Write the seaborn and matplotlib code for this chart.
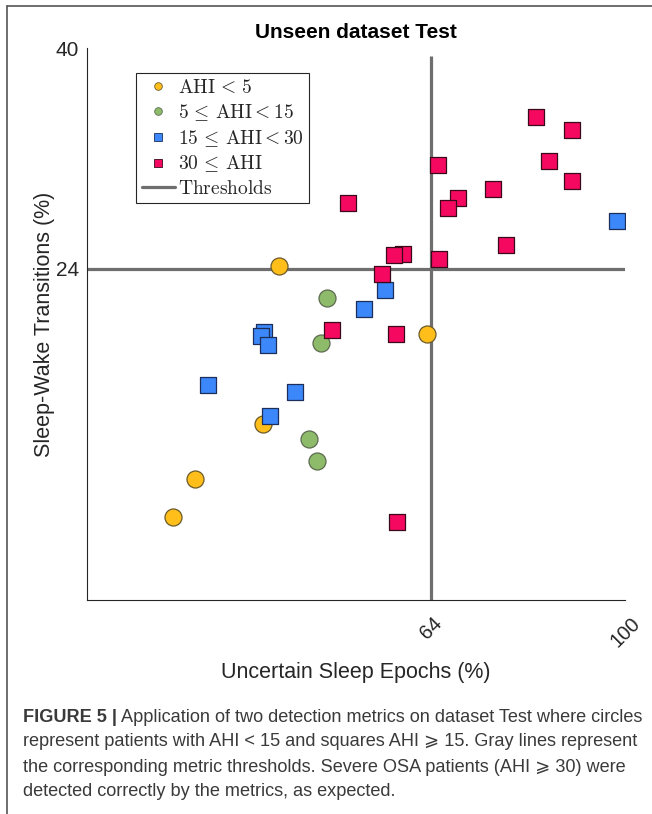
import matplotlib
matplotlib.use("Agg")
import matplotlib.pyplot as plt
from matplotlib.lines import Line2D
import seaborn as sns
import pandas as pd

# Uncertain sleep epochs (%) and sleep-wake transitions (%) per patient, by AHI group
ahi_lt5_x = [35.7, 32.7, 20.1, 16.0, 63.2]
ahi_lt5_y = [24.2, 12.75, 8.8, 6.0, 19.3]

ahi_5_15_x = [44.6, 43.5, 41.3, 42.8]
ahi_5_15_y = [21.9, 18.6, 11.7, 10.1]

ahi_15_30_x = [32.9, 32.3, 33.6, 22.5, 38.7, 34.0, 55.4, 51.5, 98.5]
ahi_15_30_y = [19.4, 19.1, 18.5, 15.6, 15.1, 13.3, 22.5, 21.1, 27.5]

ahi_ge30_x = [83.5, 90.1, 85.9, 90.1, 65.2, 75.5, 69.0, 67.1, 48.5, 77.9,
              58.7, 57.1, 65.4, 54.8, 57.4, 45.5, 57.6]
ahi_ge30_y = [35.0, 34.1, 31.8, 30.4, 31.5, 29.8, 29.1, 28.4, 28.8, 25.7,
              25.1, 25.0, 24.7, 23.6, 19.3, 19.6, 5.65]

# Metric thresholds
x_threshold = 64
y_threshold = 24

group_labels = [r"$\mathrm{AHI}\,<\,5$",
                r"$5\,\leq\,\mathrm{AHI}{<}15$",
                r"$15\,\leq\,\mathrm{AHI}{<}30$",
                r"$30\,\leq\,\mathrm{AHI}$"]
group_colors = ["#FFBE1A", "#8DBB6A", "#3C88FA", "#F5085F"]
group_edges = ["#6A5A2A", "#5C6B50", "#1B2F5A", "#3A0A1A"]
group_markers = ["o", "o", "s", "s"]
group_sizes = [150, 150, 135, 135]

sns.set_style("white")
plt.rcParams["font.family"] = ["Liberation Sans", "DejaVu Sans"]
plt.rcParams["mathtext.fontset"] = "cm"

fig = plt.figure(figsize=(6.52, 8.14), dpi=100)
ax = fig.add_axes([0.1334, 0.2629, 0.8252, 0.678])

ax.plot([x_threshold, x_threshold], [0, 39.4], color="#6E6E6E", lw=2.3, zorder=1,
        solid_capstyle="butt")
ax.plot([0, 100], [y_threshold, y_threshold], color="#6E6E6E", lw=2.3, zorder=1,
        solid_capstyle="butt")

groups = [(ahi_lt5_x, ahi_lt5_y), (ahi_5_15_x, ahi_5_15_y),
          (ahi_15_30_x, ahi_15_30_y), (ahi_ge30_x, ahi_ge30_y)]
for (gx, gy), lab, col, ec, mk, sz in zip(groups, group_labels, group_colors,
                                          group_edges, group_markers, group_sizes):
    df = pd.DataFrame({"use": gx, "swt": gy})
    sns.scatterplot(data=df, x="use", y="swt", ax=ax, color=col, marker=mk, s=sz,
                    edgecolor=ec, linewidth=0.9, zorder=3, legend=False)

ax.set_xlim(0, 100)
ax.set_ylim(0, 40)
ax.set_xticks([64, 100])
ax.set_xticklabels(["64", "100"], rotation=45, ha="center", va="top",
                   fontsize=14.5, color="#262626")
ax.set_yticks([24, 40])
ax.set_yticklabels(["24", "40"], fontsize=15, color="#262626")
ax.tick_params(axis="both", direction="in", length=5, width=0.8, color="#262626")
ax.tick_params(axis="x", pad=10)
ax.tick_params(axis="y", pad=6)
for side in ["top", "right"]:
    ax.spines[side].set_visible(False)
for side in ["left", "bottom"]:
    ax.spines[side].set_color("#262626")
    ax.spines[side].set_linewidth(0.8)

ax.set_xlabel("Uncertain Sleep Epochs (%)", fontsize=15.5, color="#262626", labelpad=8)
ax.set_ylabel("Sleep-Wake Transitions (%)", fontsize=15.5, color="#262626", labelpad=0)
ax.set_title("Unseen dataset Test", fontsize=15, fontweight="bold", color="black", pad=7)

handles = []
for lab, col, ec, mk in zip(group_labels, group_colors, group_edges, group_markers):
    handles.append(Line2D([], [], linestyle="none", marker=mk, markersize=5.5,
                          markerfacecolor=col, markeredgecolor=ec,
                          markeredgewidth=0.6, label=lab))
handles.append(Line2D([], [], color="#6E6E6E", lw=2.3, label=r"$\mathrm{Thresholds}$"))
leg = ax.legend(handles=handles, loc="upper left", bbox_to_anchor=(0.091, 0.955),
                borderaxespad=0, fontsize=14, frameon=True, fancybox=False,
                framealpha=1, edgecolor="#262626", handlelength=1.7,
                handletextpad=0.15, labelspacing=0.27, borderpad=0.3)
leg.get_frame().set_linewidth(0.8)

# Page frame around the figure panel
fig.add_artist(Line2D([0.011, 1.0], [0.9925, 0.9925], transform=fig.transFigure,
                      color="#555555", lw=1.2))
fig.add_artist(Line2D([0.011, 0.011], [0.0, 0.9925], transform=fig.transFigure,
                      color="#555555", lw=1.2))

# Caption
cap_x = 23 / 652
line_y = [718, 742, 767, 791]
cap_kw = dict(fontsize=13.1, color="#3A3A3A", va="center", ha="left",
              family=["Liberation Sans", "DejaVu Sans"])
bold = fig.text(cap_x, 1 - line_y[0] / 814, "FIGURE 5 |", fontweight="bold", **cap_kw)
fig.canvas.draw()
bb = bold.get_window_extent(renderer=fig.canvas.get_renderer())
fig.text((bb.x1 + 4) / 652, 1 - line_y[0] / 814,
         "Application of two detection metrics on dataset Test where circles", **cap_kw)
caption_lines = [
    "represent patients with AHI < 15 and squares AHI \u2a7e 15. Gray lines represent",
    "the corresponding metric thresholds. Severe OSA patients (AHI \u2a7e 30) were",
    "detected correctly by the metrics, as expected.",
]
for txt, yy in zip(caption_lines, line_y[1:]):
    fig.text(cap_x, 1 - yy / 814, txt, **cap_kw)

fig.savefig("out.png", dpi=100)
